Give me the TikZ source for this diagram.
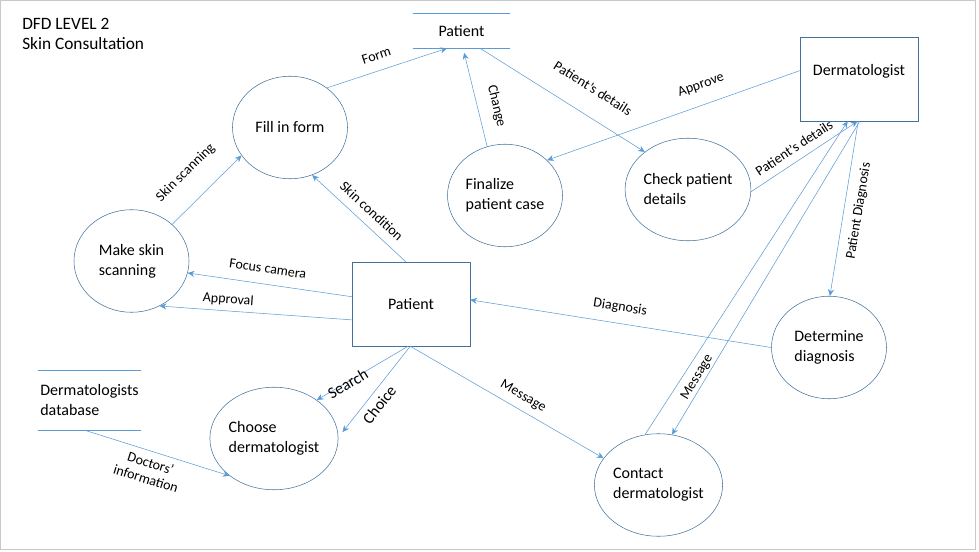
\documentclass[tikz,border=0pt]{standalone}
\usepackage{fontspec}
\setmainfont{Carlito}
\usetikzlibrary{arrows.meta}
\usetikzlibrary{shapes.geometric}
\definecolor{flowblue}{HTML}{5B9BD5}
\definecolor{edgeblue}{HTML}{41719C}
\definecolor{framegray}{HTML}{C8C8C8}
\tikzset{
    process/.style={ellipse,draw=edgeblue,minimum width=86.25pt,minimum height=76.9pt,
        inner sep=0pt,align=left,font=\fontsize{12}{15}\selectfont},
    entity/.style={rectangle,draw=edgeblue,minimum width=88.5pt,minimum height=63pt,
        font=\fontsize{12}{15}\selectfont},
    datastore/.style={inner sep=0pt,align=left,font=\fontsize{12}{15}\selectfont},
    flow/.style={draw=flowblue,-{Stealth[length=5pt,width=4.5pt]}},
    lbl/.style={sloped,inner sep=1pt,text height=7.5pt,text depth=2pt,font=\fontsize{10.5}{12}\selectfont},
    biglbl/.style={sloped,inner sep=1pt,font=\fontsize{12}{15}\selectfont},
}

\begin{document}
\begin{tikzpicture}[x=0.75pt,y=-0.75pt]
        \useasboundingbox (0,0) rectangle (979,552);
        \draw[framegray] (0.5,0.5) rectangle (975.5,549.5);
        \node[anchor=north west,inner sep=0pt,align=left,font=\fontsize{13}{15}\selectfont] (title) at (22,18)
            {DFD LEVEL 2\\Skin Consultation};
        % processes
        \node[process] (fill) at (290,127.5) {Fill in form};
        \node[process] (make) at (131.5,261) {Make skin\\scanning};
        \node[process] (final) at (505,195.5) {Finalize\\patient case};
        \node[process] (check) at (688,189.5) {Check patient\\details};
        \node[process] (determine) at (829,347.5) {Determine\\diagnosis};
        \node[process] (contact) at (658.5,485) {Contact\\dermatologist};
        \node[process] (choose) at (274,438.5) {Choose\\dermatologist};
        % entities
        \node[entity,text depth=13pt] (derm) at (859,79) {Dermatologist};
        \node[entity] (patient) at (411,304) {Patient};
        % stores
        \node[datastore,minimum width=72.75pt,minimum height=25.5pt] (pstore) at (461.5,31) {Patient};
        \node[datastore,minimum width=77.25pt,minimum height=44.25pt] (dbstore) at (89.5,400.5) {Dermatologists\\database};
        \draw[flowblue] (pstore.north west) -- (pstore.north east)
            (pstore.south west) -- (pstore.south east)
            (dbstore.north west) -- (dbstore.north east)
            (dbstore.south west) -- (dbstore.south east);
        % flows
        \path
            (fill.47) edge[flow] node[lbl,above=4.7pt,pos=.45] {Form} (pstore.-130)
            (make.42) edge[flow] node[lbl,above=14.5pt,pos=.47] {Skin scanning} (fill.-150)
            (patient.97) edge[flow] node[lbl,above=3.6pt,pos=.465] {Skin condition} (fill.-65)
            (patient.173) edge[flow] node[lbl,above=5.1pt,pos=.525] {Focus camera} (make.-12)
            (patient.-165) edge[flow] node[lbl,above=2.3pt,pos=.647] {Approval} (make.-58)
            (final.110) edge[flow,shorten >=3.5pt] node[lbl,above=8pt,pos=.365] {Change} (pstore.-85)
            (pstore.-43) edge[flow] node[lbl,above=13pt,pos=.6] {Patient's details} (check.139)
            (derm.172) edge[flow] node[lbl,above=8.7pt,pos=.365] {Approve} (final.40)
            (check.-2) edge[flow] node[lbl,above=2.8pt,pos=.47] {Patient's details} (derm.-92)
            (contact.105) edge[flow] (derm.-105)
            (derm.-89) edge[flow] node[lbl,above=0.3pt,pos=.83] {Message} (contact.75)
            (derm.-91) edge[flow] node[lbl,below=5.2pt,pos=.5] {Patient Diagnosis} (determine.89)
            (determine.180) edge[flow] node[lbl,above=6pt,pos=.51] {Diagnosis} (patient.4);
        \path
            (patient.-94) edge[flow] node[biglbl,below=-4pt,pos=.67] {Search} (choose.42)
            (patient.-91) edge[flow,shorten >=5pt] node[biglbl,below=3.5pt,pos=.56] {Choice} (choose.1)
            (patient.-91) edge[flow] node[lbl,above=4pt,pos=.55] {Message} (contact.154)
            (dbstore.-99) edge[flow] node[sloped,inner sep=1pt,align=center,below=3.8pt,pos=.48,
                font=\fontsize{10.5}{12}\selectfont] {Doctors'\\information} (choose.-140);
    \end{tikzpicture}
\end{document}
